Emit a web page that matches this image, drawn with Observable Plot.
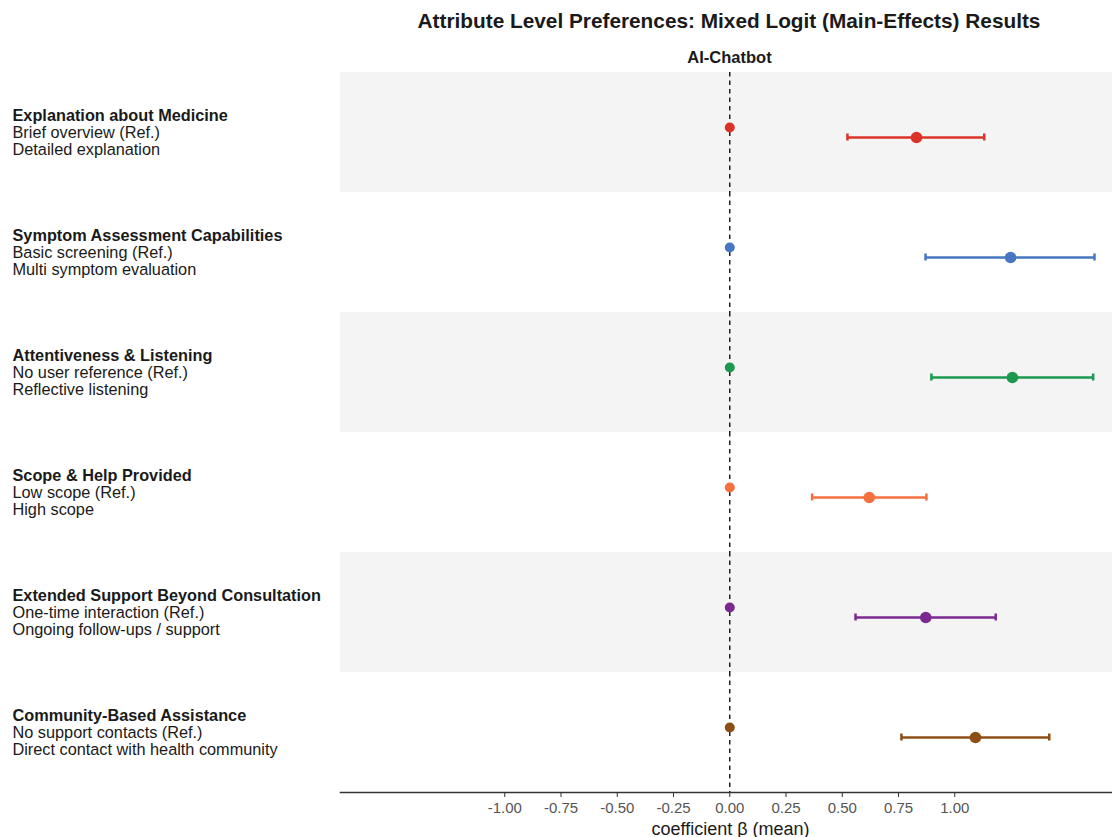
<!DOCTYPE html>
<html>
<head>
<meta charset="utf-8">
<script src="https://cdn.jsdelivr.net/npm/d3@7"></script>
<script src="https://cdn.jsdelivr.net/npm/@observablehq/plot@0.6"></script>
<style>
  html, body { margin: 0; padding: 0; background: #fff; }
  body { width: 1112px; height: 837px; overflow: hidden; font-family: "Liberation Sans", Arial, sans-serif; }
  #title { box-sizing: border-box; margin-left: 343px; width: 772px; height: 44px; padding-top: 9px;
           text-align: center; font-weight: bold; font-size: 20.8px; color: #1a1a1a; white-space: nowrap; }
  svg { overflow: visible; }
</style>
</head>
<body>
<div id="title">Attribute Level Preferences: Mixed Logit (Main-Effects) Results</div>
<div id="chart"></div>
<script>
const attributes = [
  "Explanation about Medicine",
  "Symptom Assessment Capabilities",
  "Attentiveness & Listening",
  "Scope & Help Provided",
  "Extended Support Beyond Consultation",
  "Community-Based Assistance"
];
const refLevels = [
  "Brief overview (Ref.)",
  "Basic screening (Ref.)",
  "No user reference (Ref.)",
  "Low scope (Ref.)",
  "One-time interaction (Ref.)",
  "No support contacts (Ref.)"
];
const testLevels = [
  "Detailed explanation",
  "Multi symptom evaluation",
  "Reflective listening",
  "High scope",
  "Ongoing follow-ups / support",
  "Direct contact with health community"
];
const means = [0.830, 1.248, 1.256, 0.620, 0.871, 1.092];
const lows  = [0.523, 0.870, 0.896, 0.366, 0.559, 0.763];
const highs = [1.131, 1.621, 1.615, 0.874, 1.182, 1.420];
const colors = ["#dc3328", "#4677c0", "#1b9a4f", "#f4703f", "#7a2a8f", "#8b4f16"];
const shaded = [attributes[0], attributes[2], attributes[4]];
const xTicks = [-1, -0.75, -0.5, -0.25, 0, 0.25, 0.5, 0.75, 1];
const xDomain = [-1.730, 1.701];
const panelTitle = "AI-Chatbot";
const xLabel = "coefficient β (mean)";

const rows = attributes.map((a, i) => ({
  attr: a, ref: refLevels[i], level: testLevels[i],
  mean: means[i], lo: lows[i], hi: highs[i], color: colors[i]
}));

const font = "Liberation Sans, Arial, sans-serif";
const labelSize = 16.3;

const chart = Plot.plot({
  width: 1112,
  height: 793,
  marginTop: 26,
  marginBottom: 44,
  marginLeft: 340,
  marginRight: 0,
  style: { fontFamily: font, fontSize: "14px", background: "transparent", overflow: "visible" },
  x: { domain: xDomain, ticks: xTicks, tickFormat: d => d.toFixed(2), label: null },
  y: { type: "point", domain: ["ref", "level"], padding: 4.98, axis: null },
  fy: { domain: attributes, padding: 0, axis: null },
  marks: [
    Plot.barX(shaded, { fy: d => d, x1: xDomain[0], x2: xDomain[1], fill: "#f4f4f4" }),
    Plot.ruleX([0], { stroke: "#111", strokeWidth: 1.4, strokeDasharray: "4.5,4" }),
    // left labels
    Plot.text(rows, { fy: "attr", text: "attr", frameAnchor: "left", dx: -328, dy: -17,
      textAnchor: "start", fontWeight: "bold", fontSize: labelSize, fill: "#1a1a1a" }),
    Plot.text(rows, { fy: "attr", text: "ref", frameAnchor: "left", dx: -328, dy: 0,
      textAnchor: "start", fontSize: labelSize, fill: "#1a1a1a" }),
    Plot.text(rows, { fy: "attr", text: "level", frameAnchor: "left", dx: -328, dy: 17,
      textAnchor: "start", fontSize: labelSize, fill: "#1a1a1a" }),
    // error bars
    Plot.ruleY(rows, { fy: "attr", y: () => "level", x1: "lo", x2: "hi", stroke: "color", strokeWidth: 2.5 }),
    Plot.ruleX(rows, { fy: "attr", y1: () => "level", y2: () => "level", x: "lo", stroke: "color", strokeWidth: 2.5, insetTop: -3.5, insetBottom: -3.5 }),
    Plot.ruleX(rows, { fy: "attr", y1: () => "level", y2: () => "level", x: "hi", stroke: "color", strokeWidth: 2.5, insetTop: -3.5, insetBottom: -3.5 }),
    // points
    Plot.dot(rows, { fy: "attr", y: () => "ref", x: () => 0, r: 5, fill: "color" }),
    Plot.dot(rows, { fy: "attr", y: () => "level", x: "mean", r: 5.8, fill: "color" }),
    // panel strip title
    Plot.text([attributes[0]], { fy: d => d, text: () => panelTitle, frameAnchor: "top", dx: 3, dy: -21,
      fontWeight: "bold", fontSize: 16.5, fill: "#1a1a1a" }),
    // x axis
    Plot.frame({ anchor: "bottom", facetAnchor: "bottom", stroke: "#333", strokeWidth: 1.6 }),
    Plot.axisX({ ticks: xTicks, tickFormat: d => d.toFixed(2), tickSize: 5, tickPadding: 5, stroke: "#333",
      color: "#555", fontSize: 15, label: null }),
    Plot.text([attributes[attributes.length - 1]], { fy: d => d, text: () => xLabel, frameAnchor: "bottom",
      dx: 4, dy: 42, fontSize: 18, fill: "#1a1a1a" })
  ]
});
document.getElementById("chart").appendChild(chart);
</script>
</body>
</html>
